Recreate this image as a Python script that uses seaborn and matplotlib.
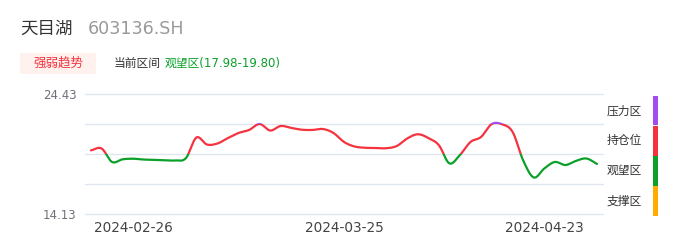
import numpy as np
import pandas as pd
import matplotlib
matplotlib.use("Agg")
import matplotlib.pyplot as plt
from matplotlib.patches import Rectangle
import seaborn as sns

# ---------------- data ----------------
dates = [
    "2024-02-20", "2024-02-21", "2024-02-22", "2024-02-23", "2024-02-26", "2024-02-27",
    "2024-02-28", "2024-02-29", "2024-03-01", "2024-03-04", "2024-03-05", "2024-03-06",
    "2024-03-07", "2024-03-08", "2024-03-11", "2024-03-12", "2024-03-13", "2024-03-14",
    "2024-03-15", "2024-03-18", "2024-03-19", "2024-03-20", "2024-03-21", "2024-03-22",
    "2024-03-25", "2024-03-26", "2024-03-27", "2024-03-28", "2024-03-29", "2024-04-01",
    "2024-04-02", "2024-04-03", "2024-04-08", "2024-04-09", "2024-04-10", "2024-04-11",
    "2024-04-12", "2024-04-15", "2024-04-16", "2024-04-17", "2024-04-18", "2024-04-19",
    "2024-04-22", "2024-04-23", "2024-04-24", "2024-04-25", "2024-04-26", "2024-04-29",
    "2024-04-30",
]
values = [
    19.62, 19.78, 18.62, 18.85, 18.90, 18.83, 18.80, 18.77, 18.75, 18.95,
    20.72, 20.12, 20.21, 20.68, 21.11, 21.37, 21.88, 21.32, 21.71, 21.54,
    21.39, 21.37, 21.45, 21.11, 20.34, 19.95, 19.84, 19.82, 19.80, 19.99,
    20.64, 21.00, 20.68, 20.06, 18.50, 19.22, 20.34, 20.77, 21.87, 21.86,
    21.19, 18.75, 17.29, 18.06, 18.62, 18.36, 18.71, 18.92, 18.45,
]
x_tick_dates = ["2024-02-26", "2024-03-25", "2024-04-23"]
y_min, y_max = 14.13, 24.43
zone_names = ["压力区", "持仓位", "观望区", "支撑区"]
zone_colors = ["#a24cf0", "#f5333f", "#0aa02a", "#ffab00"]
stock_name = "天目湖"
stock_code = "603136.SH"
badge_text = "强弱趋势"
range_label = "当前区间"
range_value = "观望区(17.98-19.80)"

# ---------------- style ----------------
sns.set_theme(style="white")
plt.rcParams["font.family"] = ["DejaVu Sans", "Noto Sans CJK SC"]

W, H = 686, 247
fig = plt.figure(figsize=(W / 100, H / 100), dpi=100)

def fx(x):
    return x / W

def fy(y):
    return 1 - y / H

ax_l, ax_r, ax_t, ax_b = 85, 603, 94.3, 214.3
ax = fig.add_axes([fx(ax_l), fy(ax_b), fx(ax_r - ax_l), (ax_b - ax_t) / H])

n = len(values)
idx = np.arange(n)
vals = np.asarray(values, dtype=float)

# smooth rendering (Catmull-Rom through the read points)
def catmull(xs, ys, steps=20):
    px = np.concatenate([[2 * xs[0] - xs[1]], xs, [2 * xs[-1] - xs[-2]]])
    py = np.concatenate([[2 * ys[0] - ys[1]], ys, [2 * ys[-1] - ys[-2]]])
    outx, outy = [], []
    for i in range(1, len(px) - 2):
        t = np.linspace(0, 1, steps, endpoint=False)
        p0, p1, p2, p3 = py[i - 1], py[i], py[i + 1], py[i + 2]
        yy = 0.5 * ((2 * p1) + (-p0 + p2) * t + (2 * p0 - 5 * p1 + 4 * p2 - p3) * t ** 2
                    + (-p0 + 3 * p1 - 3 * p2 + p3) * t ** 3)
        xx = px[i] + (px[i + 1] - px[i]) * t
        outx.append(xx)
        outy.append(yy)
    outx.append([xs[-1]])
    outy.append([ys[-1]])
    return np.concatenate(outx), np.concatenate(outy)

sx, sy = catmull(idx.astype(float), vals)
df = pd.DataFrame({"x": sx, "y": sy})

step = (y_max - y_min) / 4
levels = [y_min + k * step for k in range(5)]
bands = [
    (levels[3], 100.0, zone_colors[0]),
    (levels[2], levels[3], zone_colors[1]),
    (levels[1], levels[2], zone_colors[2]),
    (-100.0, levels[1], zone_colors[3]),
]

x0 = -0.57
x1 = (ax_r - 91) / ((597 - 91) / (n - 1))
ax.set_xlim(x0, x1)
ax.set_ylim(y_min, y_max)

for lv in levels:
    ax.axhline(lv, color="#e0e6f1", lw=1, zorder=1, clip_on=False)

for lo, hi, col in bands:
    before = set(ax.lines)
    sns.lineplot(data=df, x="x", y="y", ax=ax, color=col, lw=1.6, sort=False,
                 estimator=None, zorder=3)
    new = [l for l in ax.lines if l not in before]
    clip = Rectangle((x0 - 5, lo), (x1 - x0) + 10, hi - lo, transform=ax.transData)
    for l in new:
        l.set_clip_path(clip)
        l.set_solid_capstyle("round")

for s in ax.spines.values():
    s.set_visible(False)

ax.set_yticks([y_max, y_min])
ax.set_yticklabels([f"{y_max:.2f}", f"{y_min:.2f}"], color="#6e7079", fontsize=8.5)
ax.set_xticks([dates.index(d) for d in x_tick_dates])
ax.set_xticklabels(x_tick_dates, color="#444444", fontsize=9.8)
ax.tick_params(axis="y", length=0, pad=6)
ax.tick_params(axis="x", length=0, pad=5)
ax.set_xlabel("")
ax.set_ylabel("")

# ---------------- header ----------------
fig.text(fx(20), fy(29), stock_name, fontsize=12.6, color="#333333", va="center", ha="left")
fig.text(fx(88), fy(29), stock_code, fontsize=12.6, color="#999999", va="center", ha="left")

fig.add_artist(Rectangle((fx(20), fy(74)), fx(76), (74 - 53.3) / H,
                         transform=fig.transFigure, facecolor="#fff1ed", edgecolor="none"))
fig.text(fx(58), fy(63.5), badge_text, fontsize=9, color="#f5333f", va="center", ha="center")
fig.text(fx(114), fy(63.5), range_label, fontsize=8.5, color="#333333", va="center", ha="left")
fig.text(fx(165), fy(63.5), range_value, fontsize=8.5, color="#0aa02a", va="center", ha="left")

# ---------------- zone legend ----------------
seg_tops = [96, 126, 156, 186]
seg_h = 29.5
for name, col, top in zip(zone_names, zone_colors, seg_tops):
    fig.add_artist(Rectangle((fx(653), fy(top + seg_h)), fx(5), seg_h / H,
                             transform=fig.transFigure, facecolor=col, edgecolor="none"))
    fig.text(fx(607), fy(top + seg_h / 2), name, fontsize=8.5, color="#333333",
             va="center", ha="left")

fig.savefig("out.png", dpi=100)
